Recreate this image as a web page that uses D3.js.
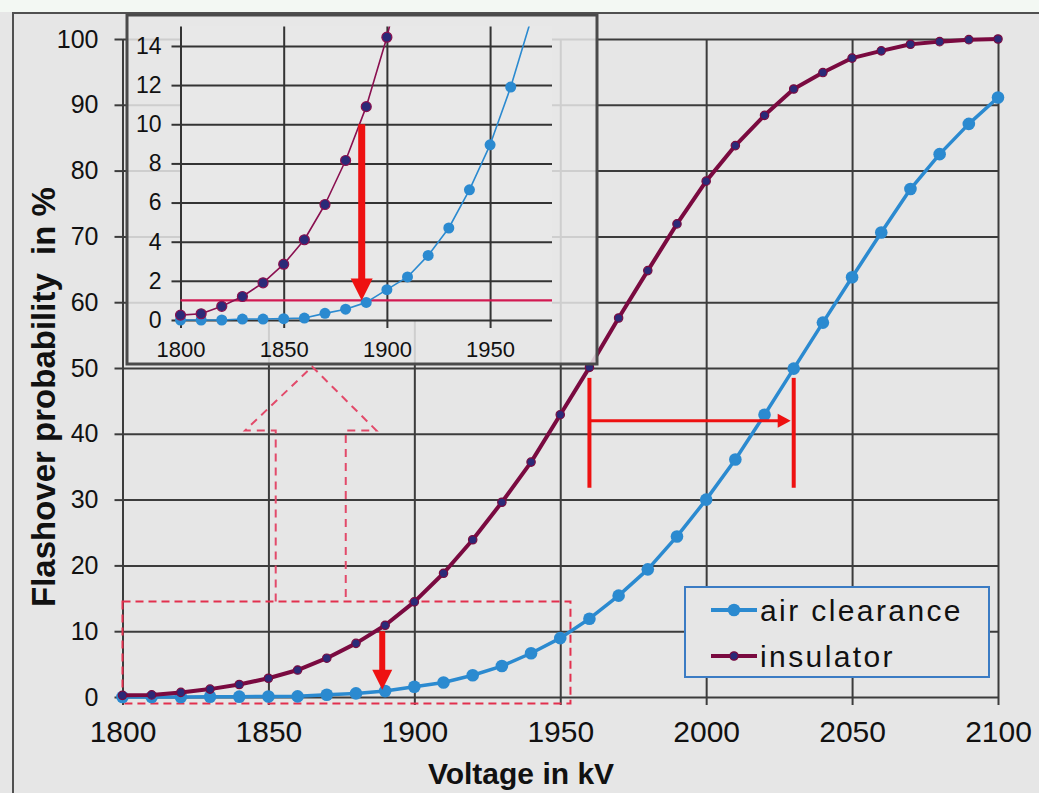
<!DOCTYPE html>
<html>
<head>
<meta charset="utf-8">
<script src="https://cdn.jsdelivr.net/npm/d3@7"></script>
<style>
  html, body { margin: 0; padding: 0; background: #e6e6e6; }
  svg { display: block; font-family: "Liberation Sans", Arial, sans-serif; }
</style>
</head>
<body>
<script>
// voltage steps (kV) and flashover probabilities (%)
var voltage = [1800, 1810, 1820, 1830, 1840, 1850, 1860, 1870, 1880, 1890, 1900,
               1910, 1920, 1930, 1940, 1950, 1960, 1970, 1980, 1990, 2000,
               2010, 2020, 2030, 2040, 2050, 2060, 2070, 2080, 2090, 2100];
var airClearance = [0, 0, 0, 0.05, 0.05, 0.07, 0.1, 0.34, 0.55, 0.9, 1.55,
                    2.2, 3.3, 4.7, 6.65, 8.95, 11.9, 15.4, 19.4, 24.4, 30.0,
                    36.1, 42.9, 49.9, 56.9, 63.8, 70.6, 77.2, 82.5, 87.1, 91.1];
var insulator = [0.25, 0.32, 0.7, 1.2, 1.9, 2.85, 4.1, 5.9, 8.15, 10.9, 14.45,
                 18.8, 23.9, 29.6, 35.7, 42.9, 50.1, 57.6, 64.8, 71.9, 78.4,
                 83.8, 88.4, 92.4, 94.9, 97.1, 98.2, 99.2, 99.6, 99.9, 100];

var mainXTicks = [1800, 1850, 1900, 1950, 2000, 2050, 2100];
var mainYTicks = [0, 10, 20, 30, 40, 50, 60, 70, 80, 90, 100];
var insetXTicks = [1800, 1850, 1900, 1950];
var insetYTicks = [0, 2, 4, 6, 8, 10, 12, 14];

var seriesNames = ["air clearance", "insulator"];

// annotations (in data units)
var shiftFrom = 1960, shiftTo = 2030, shiftLevel = 42;       // 50% shift arrow
var dropVoltage = 1889, dropFrom = 10, dropTo = 1.1;          // red drop arrow
var insetLevel = 1;                                           // 1 % line in inset
var zoomBox = {x0: 1800, x1: 1953.5, y0: -1, y1: 14.5};       // dashed frame

var W = 1039, H = 793;
var blue = "#2b8ad0", maroon = "#7a0a40", navy = "#2b2a78", red = "#ee1111";
var fmt = d3.format("d");

var svg = d3.select("body").append("svg")
    .attr("width", W).attr("height", H);

svg.append("rect").attr("width", W).attr("height", H).attr("fill", "#e6e6e6");
svg.append("rect").attr("width", W).attr("height", 12).attr("fill", "#f3f8f3");
svg.append("path").attr("d", "M13," + H + "V13H" + W)
    .attr("fill", "none").attr("stroke", "#505050").attr("stroke-width", 2);

// ---------- main chart ----------
var x = d3.scaleLinear().domain([1800, 2100]).range([122.5, 998]);
var y = d3.scaleLinear().domain([0, 100]).range([697, 39]);

var main = svg.append("g");

// grid
main.append("g")
    .attr("transform", "translate(0,697)")
    .call(d3.axisBottom(x).tickValues(mainXTicks).tickSize(-(697 - 39)).tickFormat(""))
    .call(function(g) { g.select(".domain").remove(); })
    .selectAll("line").attr("stroke", "#3c3c3c").attr("stroke-width", 2);
main.append("g")
    .attr("transform", "translate(122.5,0)")
    .call(d3.axisLeft(y).tickValues(mainYTicks).tickSize(-(998 - 122.5)).tickFormat(""))
    .call(function(g) { g.select(".domain").remove(); })
    .selectAll("line").attr("stroke", "#3c3c3c").attr("stroke-width", 2);

// axes with outside ticks
var xAx = main.append("g")
    .attr("transform", "translate(0,697)")
    .call(d3.axisBottom(x).tickValues(mainXTicks).tickFormat(fmt).tickSize(8).tickPadding(16));
xAx.select(".domain").remove();
xAx.selectAll("line").attr("stroke", "#3c3c3c").attr("stroke-width", 2);
xAx.selectAll("text").attr("font-size", 30).attr("fill", "#111")
    .attr("font-family", "Liberation Sans, Arial, sans-serif");

var yAx = main.append("g")
    .attr("transform", "translate(122.5,0)")
    .call(d3.axisLeft(y).tickValues(mainYTicks).tickFormat(fmt).tickSize(8).tickPadding(16));
yAx.select(".domain").remove();
yAx.selectAll("line").attr("stroke", "#3c3c3c").attr("stroke-width", 2);
yAx.selectAll("text").attr("font-size", 25).attr("fill", "#111")
    .attr("font-family", "Liberation Sans, Arial, sans-serif");

main.append("text")
    .attr("x", 521).attr("y", 784)
    .attr("text-anchor", "middle")
    .attr("font-size", 30).attr("font-weight", "bold").attr("fill", "#111")
    .text("Voltage in kV");

main.append("text")
    .attr("transform", "translate(55,397) rotate(-90)")
    .attr("text-anchor", "middle")
    .attr("font-size", 33).attr("font-weight", "bold").attr("fill", "#111")
    .style("white-space", "pre")
    .text("Flashover probability  in %");

// dashed zoom frame and hollow arrow
var pink = "#e2304e";
main.append("rect")
    .attr("x", x(zoomBox.x0)).attr("y", y(zoomBox.y1))
    .attr("width", x(zoomBox.x1) - x(zoomBox.x0))
    .attr("height", y(zoomBox.y0) - y(zoomBox.y1))
    .attr("fill", "none").attr("stroke", pink).attr("stroke-width", 2)
    .attr("stroke-dasharray", "8,5");

var hollow = [[1852.5, 14.5], [1852.5, 40.5], [1842, 40.5], [1865, 50.2],
              [1887, 40.5], [1876.5, 40.5], [1876.5, 14.5]];
main.append("path")
    .attr("d", d3.line().x(function(d) { return x(d[0]); }).y(function(d) { return y(d[1]); })(hollow))
    .attr("fill", "none").attr("stroke", "#e24a6a").attr("stroke-width", 2)
    .attr("stroke-dasharray", "8,6");

// series
var airData = voltage.map(function(v, i) { return {v: v, p: airClearance[i]}; });
var insData = voltage.map(function(v, i) { return {v: v, p: insulator[i]}; });

function drawSeries(g, xs, ys, data, color, lw, r, fill, stroke) {
  g.append("path")
      .datum(data)
      .attr("d", d3.line().x(function(d) { return xs(d.v); }).y(function(d) { return ys(d.p); }))
      .attr("fill", "none").attr("stroke", color).attr("stroke-width", lw)
      .attr("stroke-linejoin", "round");
  g.selectAll(null)
      .data(data)
    .enter().append("circle")
      .attr("cx", function(d) { return xs(d.v); })
      .attr("cy", function(d) { return ys(d.p); })
      .attr("r", r)
      .attr("fill", fill)
      .attr("stroke", stroke).attr("stroke-width", 1.2);
}

drawSeries(main, x, y, airData, blue, 3.5, 6.3, blue, "none");
drawSeries(main, x, y, insData, maroon, 4, 4.2, navy, maroon);

// red arrows
function downArrow(g, px, py0, py1, shaft, head) {
  g.append("line")
      .attr("x1", px).attr("x2", px)
      .attr("y1", py0).attr("y2", py1 - head + 2)
      .attr("stroke", red).attr("stroke-width", shaft);
  g.append("path")
      .attr("d", "M" + (px - head / 2) + "," + (py1 - head) + "L" + (px + head / 2) + "," + (py1 - head) +
                 "L" + px + "," + py1 + "Z")
      .attr("fill", red);
}

downArrow(main, x(dropVoltage), y(dropFrom), y(dropTo), 6, 20);

main.append("line")
    .attr("x1", x(shiftFrom)).attr("x2", x(shiftFrom))
    .attr("y1", y(48.5)).attr("y2", y(31.8))
    .attr("stroke", red).attr("stroke-width", 4);
main.append("line")
    .attr("x1", x(shiftTo)).attr("x2", x(shiftTo))
    .attr("y1", y(48.5)).attr("y2", y(31.8))
    .attr("stroke", red).attr("stroke-width", 4);
main.append("line")
    .attr("x1", x(shiftFrom)).attr("x2", x(shiftTo) - 12)
    .attr("y1", y(shiftLevel)).attr("y2", y(shiftLevel))
    .attr("stroke", red).attr("stroke-width", 3);
main.append("path")
    .attr("d", "M" + (x(shiftTo) - 3) + "," + y(shiftLevel) +
               "L" + (x(shiftTo) - 16) + "," + (y(shiftLevel) - 7) +
               "L" + (x(shiftTo) - 16) + "," + (y(shiftLevel) + 7) + "Z")
    .attr("fill", red);

// legend
var legend = main.append("g").attr("transform", "translate(685,587)");
legend.append("rect")
    .attr("width", 304).attr("height", 90)
    .attr("fill", "#e6e6e6").attr("stroke", "#3b7cc4").attr("stroke-width", 2);
var legendStyle = [
  {color: blue, r: 6.3, fill: blue, stroke: "none"},
  {color: maroon, r: 4.2, fill: navy, stroke: maroon}
];
var item = legend.selectAll(".legend")
    .data(seriesNames)
  .enter().append("g")
    .attr("class", "legend")
    .attr("transform", function(d, i) { return "translate(0," + (23 + i * 46) + ")"; });
item.append("line")
    .attr("x1", 26).attr("x2", 72)
    .attr("stroke", function(d, i) { return legendStyle[i].color; })
    .attr("stroke-width", 4);
item.append("circle")
    .attr("cx", 49)
    .attr("r", function(d, i) { return legendStyle[i].r; })
    .attr("fill", function(d, i) { return legendStyle[i].fill; })
    .attr("stroke", function(d, i) { return legendStyle[i].stroke; })
    .attr("stroke-width", 1.2);
item.append("text")
    .attr("x", 75).attr("dy", "0.36em")
    .attr("font-size", 30).attr("fill", "#111")
    .attr("letter-spacing", 2.4)
    .text(function(d) { return d; });

// ---------- inset ----------
var xi = d3.scaleLinear().domain([1800, 1980]).range([180.5, 552]);
var yi = d3.scaleLinear().domain([0, 15]).range([320, 26.4]);

var inset = svg.append("g");
inset.append("rect")
    .attr("x", 127).attr("y", 15).attr("width", 470).attr("height", 349)
    .attr("fill", "#e6e6e6").attr("fill-opacity", 0.86);
inset.append("rect")
    .attr("x", xi(1800)).attr("y", yi(15))
    .attr("width", xi(1980) - xi(1800)).attr("height", yi(0) - yi(15))
    .attr("fill", "#e8e8e8");

svg.append("defs").append("clipPath").attr("id", "insetClip")
  .append("rect")
    .attr("x", xi(1800) - 8).attr("y", yi(15))
    .attr("width", xi(1980) - xi(1800) + 8).attr("height", yi(0) - yi(15) + 8);

inset.append("g")
    .attr("transform", "translate(0,320)")
    .call(d3.axisBottom(xi).tickValues(insetXTicks).tickSize(-(320 - 26.4)).tickFormat(""))
    .call(function(g) { g.select(".domain").remove(); })
    .selectAll("line").attr("stroke", "#333").attr("stroke-width", 2);
inset.append("g")
    .attr("transform", "translate(180.5,0)")
    .call(d3.axisLeft(yi).tickValues(insetYTicks).tickSize(-(552 - 180.5)).tickFormat(""))
    .call(function(g) { g.select(".domain").remove(); })
    .selectAll("line").attr("stroke", "#333").attr("stroke-width", 2);

var xiAx = inset.append("g")
    .attr("transform", "translate(0,320)")
    .call(d3.axisBottom(xi).tickValues(insetXTicks).tickFormat(fmt).tickSize(8).tickPadding(13));
xiAx.select(".domain").remove();
xiAx.selectAll("line").attr("stroke", "#333").attr("stroke-width", 2);
xiAx.selectAll("text").attr("font-size", 22).attr("fill", "#111")
    .attr("font-family", "Liberation Sans, Arial, sans-serif");

var yiAx = inset.append("g")
    .attr("transform", "translate(180.5,0)")
    .call(d3.axisLeft(yi).tickValues(insetYTicks).tickFormat(fmt).tickSize(9).tickPadding(10));
yiAx.select(".domain").remove();
yiAx.selectAll("line").attr("stroke", "#333").attr("stroke-width", 2);
yiAx.selectAll("text").attr("font-size", 23).attr("fill", "#111")
    .attr("font-family", "Liberation Sans, Arial, sans-serif");

inset.append("line")
    .attr("x1", xi(1800)).attr("x2", xi(1980))
    .attr("y1", yi(insetLevel)).attr("y2", yi(insetLevel))
    .attr("stroke", "#d21a52").attr("stroke-width", 2.2);

var insetPlot = inset.append("g").attr("clip-path", "url(#insetClip)");
drawSeries(insetPlot, xi, yi, airData, blue, 1.6, 5.5, blue, "none");
drawSeries(insetPlot, xi, yi, insData, "#8a1050", 1.6, 5, navy, "#8a1050");

downArrow(inset, xi(1887.8), yi(dropFrom), yi(insetLevel), 7, 22);

inset.append("rect")
    .attr("x", 127).attr("y", 15).attr("width", 470).attr("height", 349)
    .attr("fill", "none").attr("stroke", "#4a4a4a").attr("stroke-width", 3);
</script>
</body>
</html>
